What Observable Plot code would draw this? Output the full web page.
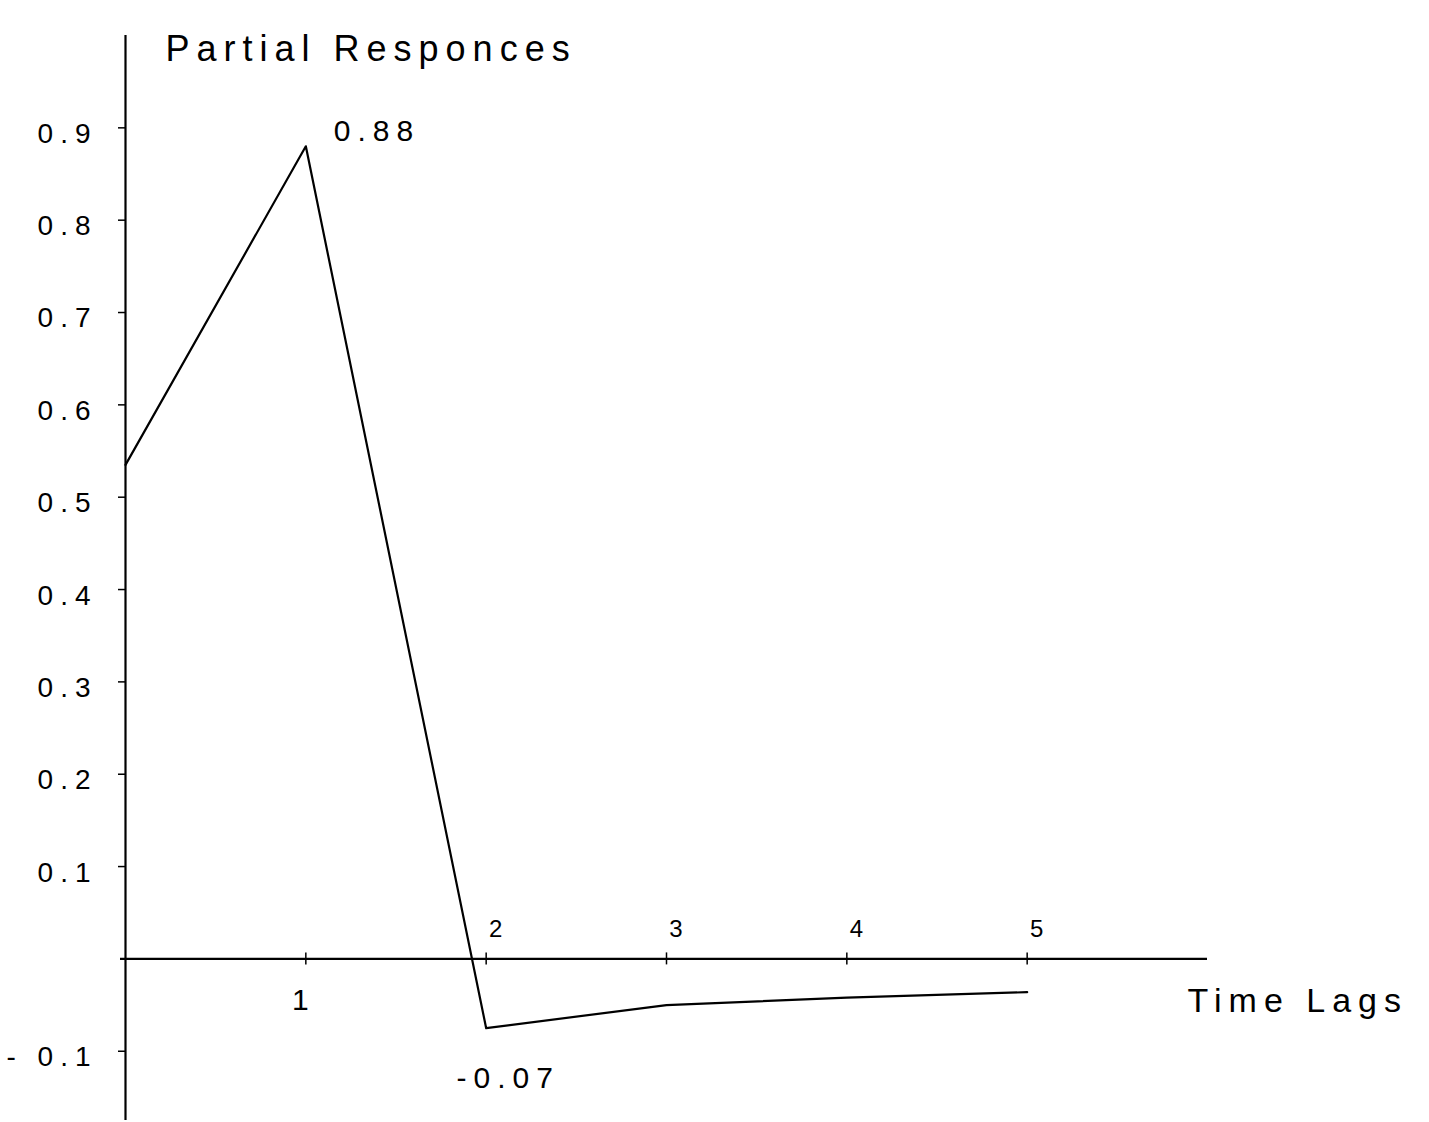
<!DOCTYPE html>
<html>
<head>
<meta charset="utf-8">
<script src="https://cdn.jsdelivr.net/npm/d3@7"></script>
<script src="https://cdn.jsdelivr.net/npm/@observablehq/plot@0.6"></script>
<style>
  html, body { margin: 0; padding: 0; background: #fff; }
  svg { display: block; }
</style>
</head>
<body>
<div id="chart"></div>
<script>
// Data
const lags = [0, 1, 2, 3, 4, 5];
const responses = [0.535, 0.88, -0.075, -0.05, -0.042, -0.036];
const yTicks = [-0.1, 0.1, 0.2, 0.3, 0.4, 0.5, 0.6, 0.7, 0.8, 0.9];
const yTickLabels = ["- 0.1", "0.1", "0.2", "0.3", "0.4", "0.5", "0.6", "0.7", "0.8", "0.9"];
const xTicksBelow = [1];
const xTicksAbove = [2, 3, 4, 5];
const xTickMarks = [1, 2, 3, 4, 5];
const annotations = [
  {lag: 1, value: 0.88, label: "0.88"},
  {lag: 2, value: -0.075, label: "-0.07"}
];
const title = "Partial Responces";
const xTitle = "Time Lags";
const xDomain = [0, 6];
const yDomain = [-0.175, 1.0];

const data = lags.map((l, i) => ({lag: l, value: responses[i]}));
const yLabelData = yTicks.map((t, i) => ({tick: t, label: yTickLabels[i]}));
const font = "'Liberation Sans', 'DejaVu Sans', sans-serif";

const chart = Plot.plot({
  width: 1429,
  height: 1122,
  marginLeft: 125,
  marginRight: 222,
  marginTop: 35,
  marginBottom: 2,
  style: {fontFamily: font, color: "#000", background: "#fff", letterSpacing: "7px"},
  x: {type: "linear", domain: xDomain, axis: null},
  y: {type: "linear", domain: yDomain, axis: null},
  marks: [
    // y axis line
    Plot.ruleX([xDomain[0]], {stroke: "#000", strokeWidth: 2.2}),
    // x axis line
    Plot.ruleY([0], {x1: xDomain[0], x2: xDomain[1], stroke: "#000", strokeWidth: 2.2, insetLeft: -5}),
    // y ticks (marks only)
    Plot.axisY({
      ticks: yTicks,
      tickSize: 7,
      text: null,
      label: null,
      stroke: "#000",
      strokeWidth: 1.5
    }),
    // y tick labels
    Plot.text(yLabelData, {frameAnchor: "left", y: "tick", text: "label", textAnchor: "end", dx: -28, dy: 6, fontSize: 28, fill: "#000"}),
    // x tick marks (small crosses on the axis)
    Plot.ruleX(xTickMarks, {x: d => d, y1: 0, y2: 0, insetTop: -6, insetBottom: -6, stroke: "#000", strokeWidth: 1.5}),
    // x tick labels
    Plot.text(xTicksBelow, {x: d => d, y: 0, text: d => String(d), dx: -2, dy: 41, fontSize: 30, fill: "#000"}),
    Plot.text(xTicksAbove, {x: d => d, y: 0, text: d => String(d), dx: 13, dy: -30, fontSize: 24, fill: "#000"}),
    // x axis title
    Plot.text([xTitle], {x: xDomain[1], y: 0, text: d => d, textAnchor: "start", dx: -20, dy: 42, fontSize: 34, fill: "#000"}),
    // y axis title
    Plot.text([title], {frameAnchor: "top-left", text: d => d, textAnchor: "start", dx: 40, dy: 0, fontSize: 36, fill: "#000"}),
    // response line
    Plot.line(data, {x: "lag", y: "value", stroke: "#000", strokeWidth: 2.2}),
    // annotations
    Plot.text(annotations.slice(0, 1), {x: "lag", y: "value", text: "label", textAnchor: "start", dx: 28, dy: -15, fontSize: 30, fill: "#000"}),
    Plot.text(annotations.slice(1), {x: "lag", y: "value", text: "label", dx: 22, dy: 50, fontSize: 30, fill: "#000"})
  ]
});

document.getElementById("chart").appendChild(chart);
</script>
</body>
</html>
